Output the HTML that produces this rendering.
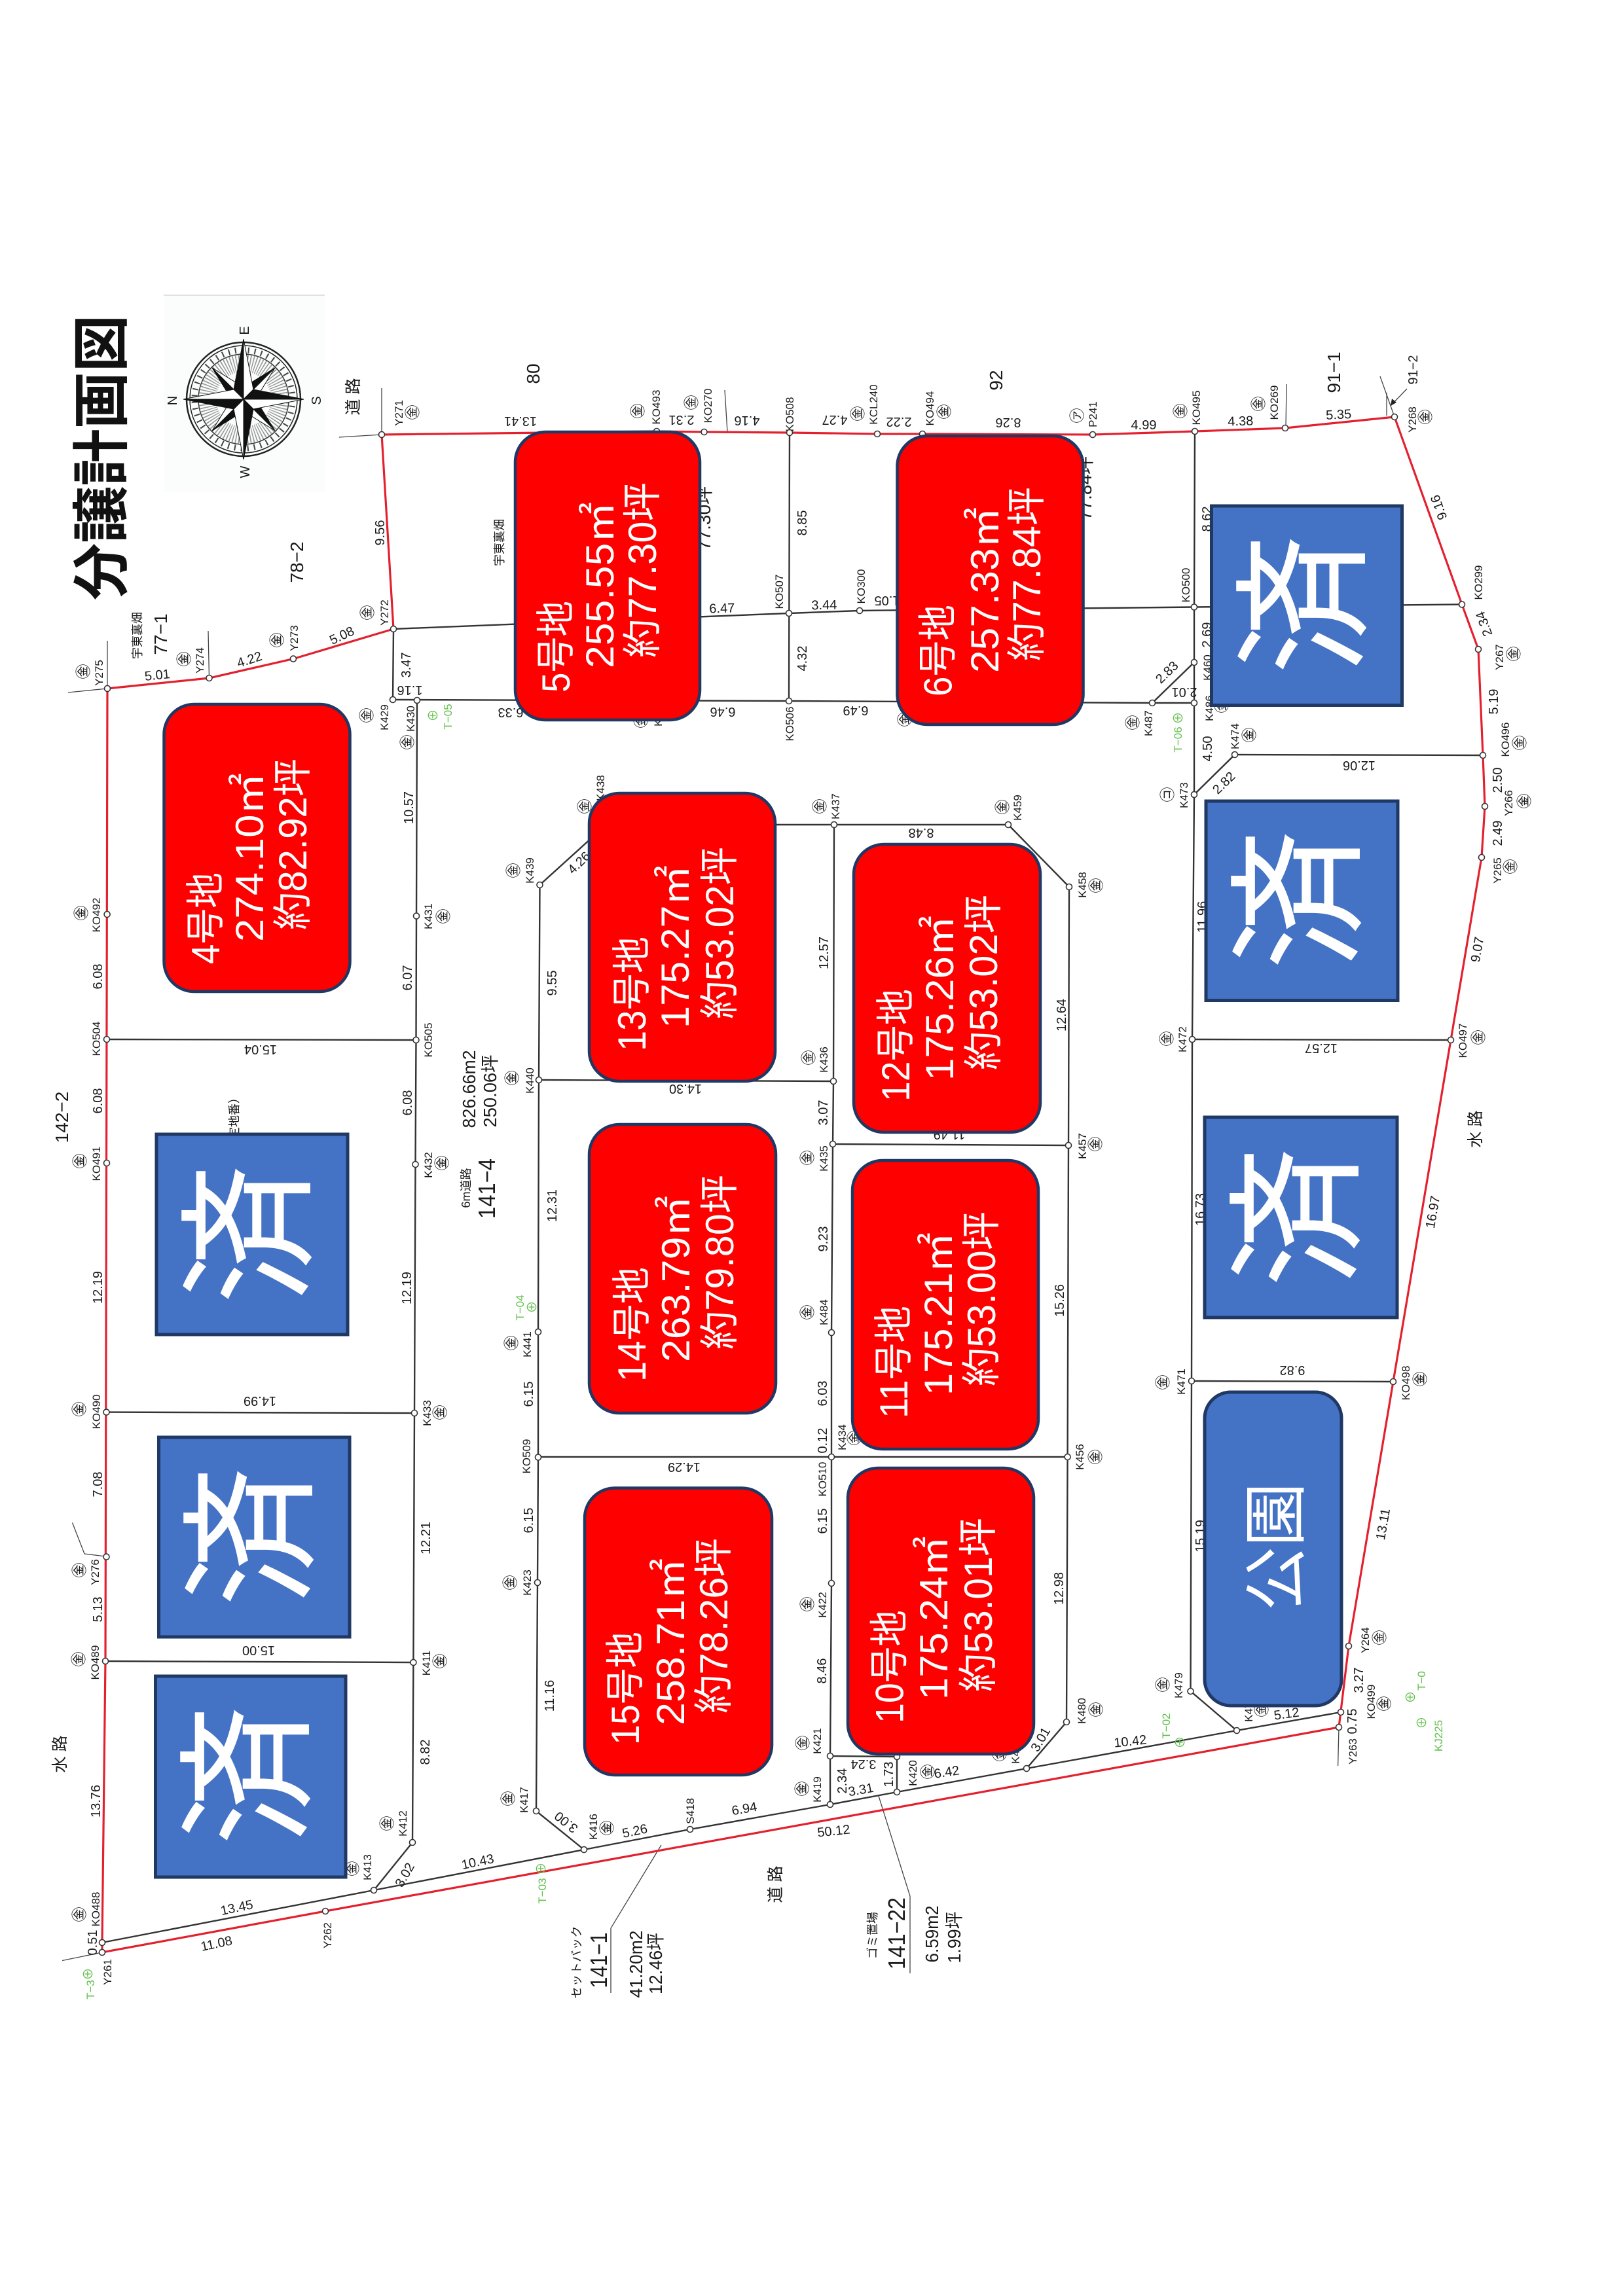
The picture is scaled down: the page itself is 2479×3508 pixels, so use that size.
<!DOCTYPE html>
<html lang="ja"><head><meta charset="utf-8"><title>分譲計画図</title>
<style>
html,body{margin:0;padding:0;background:#fff}
svg{display:block}
text{font-family:"Liberation Sans","Noto Sans CJK JP",sans-serif;fill:#1a1a1a}
.l{font-size:17px;text-anchor:middle}
.d{font-size:20px;text-anchor:middle}
.j{font-size:25px;text-anchor:middle}
.n{font-size:28px;text-anchor:middle}
.s{font-size:18px;text-anchor:middle}
.k{font-size:23px;text-anchor:middle;font-family:"Noto Sans CJK JP",sans-serif}
.g{font-size:17px;text-anchor:middle;fill:#5fbf4a}
.gk{font-size:19px;text-anchor:middle;fill:#5fbf4a}
.w{font-size:60px;fill:#fff}
.z{font-size:214px;fill:#fff;text-anchor:middle;font-family:"Noto Sans CJK JP",sans-serif}
.r{fill:#f00;stroke:#1f3864;stroke-width:4.5}
.b{fill:#4472c4;stroke:#1f3864;stroke-width:5}
.ln{fill:none;stroke:#333;stroke-width:2.4}
.rd{fill:none;stroke:#e3202e;stroke-width:3.2}
.nd circle{fill:#fff;stroke:#333;stroke-width:1.6}
</style></head><body>
<svg xmlns="http://www.w3.org/2000/svg" width="2479" height="3508" viewBox="0 0 2479 3508">
<rect width="2479" height="3508" fill="#fff"/>

<!-- compass -->
<rect x="250" y="451" width="246" height="301" fill="#fbfcfc"/>
<line x1="250" y1="451" x2="496" y2="451" stroke="#d8d8d8" stroke-width="1.5"/>
<g transform="translate(372,610)">
<circle r="87" fill="none" stroke="#222" stroke-width="2.5"/>
<circle r="82" fill="none" stroke="#222" stroke-width="1.5"/>
<circle r="75" fill="none" stroke="#444" stroke-width="9" stroke-dasharray="2 8"/>
<circle r="69" fill="none" stroke="#333" stroke-width="1.5"/>
<circle r="55" fill="none" stroke="#999" stroke-width="26" stroke-dasharray="1.5 2.5"/>
<g stroke="#111" stroke-width="1">
<g><polygon points="0,-68 0,0 -13,-13" fill="#111" transform="rotate(45)"/><polygon points="0,-68 0,0 13,-13" fill="#fff" transform="rotate(45)"/></g>
<g><polygon points="0,-68 0,0 -13,-13" fill="#111" transform="rotate(135)"/><polygon points="0,-68 0,0 13,-13" fill="#fff" transform="rotate(135)"/></g>
<g><polygon points="0,-68 0,0 -13,-13" fill="#111" transform="rotate(225)"/><polygon points="0,-68 0,0 13,-13" fill="#fff" transform="rotate(225)"/></g>
<g><polygon points="0,-68 0,0 -13,-13" fill="#111" transform="rotate(315)"/><polygon points="0,-68 0,0 13,-13" fill="#fff" transform="rotate(315)"/></g>
<g><polygon points="0,-92 0,0 -15,-15" fill="#111"/><polygon points="0,-92 0,0 15,-15" fill="#fff"/></g>
<g transform="rotate(90)"><polygon points="0,-92 0,0 -15,-15" fill="#111"/><polygon points="0,-92 0,0 15,-15" fill="#fff"/></g>
<g transform="rotate(180)"><polygon points="0,-92 0,0 -15,-15" fill="#111"/><polygon points="0,-92 0,0 15,-15" fill="#fff"/></g>
<g transform="rotate(270)"><polygon points="0,-92 0,0 -15,-15" fill="#111"/><polygon points="0,-92 0,0 15,-15" fill="#fff"/></g>
</g></g>
<g class="x">
<text class="d" transform="matrix(0 -1 1 0 380 505)">E</text>
<text class="d" transform="matrix(0 -1 1 0 490 612)">S</text>
<text class="d" transform="matrix(0 -1 1 0 270 612)">N</text>
<text class="d" transform="matrix(0 -1 1 0 381 721)">W</text>
</g>

<!-- title -->
<text transform="matrix(0 -1 1 0 186 917)" style="font-size:88px;font-weight:bold;fill:#111;font-family:'Noto Sans CJK JP',sans-serif" textLength="436" lengthAdjust="spacingAndGlyphs">分譲計画図</text>

<!-- black lot lines -->
<g class="ln">
<polyline points="156,2968 571,2888 892,2826 1054,2795 1268,2757 1370,2738 1568,2702 1889,2644 2048,2616"/>
<polyline points="601,961 1205,937 1313,933 1825,927.5 2233,923.5"/>
<polyline points="1825,659 1824,927 1824,1012 1824,1074 1824,1214 1821,1588 1820,2110 1818.5,2584 1889,2644"/>
<polyline points="1824,1012 1760,1074"/>
<polyline points="600,1069 1205,1071 1760,1074 1824,1074"/>
<polyline points="600,1069 601,961"/>
<polyline points="637,1070 636,1399.5 635.5,1589 634.5,1779 633,2159 631.4,2540 630,2815 571,2888"/>
<polyline points="163,1588 635.5,1589"/>
<polyline points="162.5,2157.6 633,2159"/>
<polyline points="161,2538 631.4,2540"/>
<polyline points="1824,1214 1886,1153 2265,1154"/>
<polyline points="1821,1588 2216,1589"/>
<polyline points="1820,2110 2128,2111"/>
<polyline points="1206,661 1205,1071"/>
<polyline points="892,2826 819,2767 821,2418 822,2226.5 822,2035 823,1650 824.5,1352 926,1260 1274,1260 1540,1260 1633,1355 1632,1750 1630.6,2226 1629,2631 1568,2702"/>
<polyline points="1274,1260 1273,1652 1272,1748 1270,2036 1270,2226 1270,2419 1268,2683 1268,2757"/>
<polyline points="1268,2683 1370,2684 1370,2738"/>
<polyline points="823,1650 1273,1652"/>
<polyline points="1272,1748 1632,1750"/>
<polyline points="822,2226 1630.6,2226"/>
</g>
<!-- thin leader lines -->
<g fill="none" stroke="#444" stroke-width="1.3">
<polyline points="583,593 583,664"/><polyline points="518,668 583,664"/>
<polyline points="318,964 319.5,1036"/>
<polyline points="164,979 164,1052"/><polyline points="104,1058 164,1052"/>
<polyline points="1107,596 1111,660"/>
<polyline points="1965,587 1964,653"/>
<polyline points="2108,575 2124,620 2130,637"/><polyline points="2118,600 2118,635"/>
<polyline points="2149,594 2124,620"/>
<polyline points="110.5,2326.5 129,2374 157,2377.5"/>
<polyline points="95,2995.5 156,2983"/>
<polyline points="2045,2639 2043.6,2698"/>
<polyline points="1342,2744 1390,2897 1390,3015"/>
<polyline points="1010,2819 933,2946 933,3045"/>
</g>
<polygon points="2124,620 2126,609 2133,615" fill="#222"/>

<!-- red boundary -->
<polygon class="rd" points="164,1052 319.5,1036 448,1006.6 601,961 583,664 1003,659 1075.5,660 1206,661 1340,663 1409,663 1669,664 1825,659 1963,654 2130,637 2233,923.5 2258,992 2265,1154 2268,1232 2263,1310 2216,1589 2128,2111 2060,2515 2045,2639 497,2920 156,2983 156,2968 161,2538 164,1052"/>

<!-- labels -->
<g>
<text class="j" transform="matrix(0 -1 1 0 548 606)">道 路</text>
<text class="n" transform="matrix(0 -1 1 0 824 571)">80</text>
<text class="n" transform="matrix(0 -1 1 0 1531 581)">92</text>
<text class="n" transform="matrix(0 -1 1 0 2047 569)">91−1</text>
<text class="d" transform="matrix(0 -1 1 0 2165 565)">91−2</text>
<text class="n" transform="matrix(0 -1 1 0 463 859)">78−2</text>
<text class="n" transform="matrix(0 -1 1 0 255 969)">77−1</text>
<text class="n" transform="matrix(0 -1 1 0 104 1707)">142−2</text>
<text class="s" transform="matrix(0 -1 1 0 769 829)">宇東裏畑</text>
<text class="s" transform="matrix(0 -1 1 0 216 971)">宇東裏畑</text>
<text class="s" transform="matrix(0 -1 1 0 364 1722)">（予定地番）</text>
<text class="j" transform="matrix(0 -1 1 0 2262 1725)">水 路</text>
<text class="j" transform="matrix(0 -1 1 0 100 2680)">水 路</text>
<text class="j" transform="matrix(0 -1 1 0 1193 2879)">道 路</text>
<text class="n" transform="matrix(0 -1 1 0 1085 792)">77.30坪</text>
<text class="n" transform="matrix(0 -1 1 0 1667 746)">77.84坪</text>
<text class="n" transform="matrix(0 -1 1 0 726 1664)" textLength="119" lengthAdjust="spacingAndGlyphs">826.66m2</text>
<text class="n" transform="matrix(0 -1 1 0 758 1667)" textLength="111" lengthAdjust="spacingAndGlyphs">250.06坪</text>
<text class="s" transform="matrix(0 -1 1 0 718 1815)">6m道路</text>
<text class="n" transform="matrix(0 -1 1 0 756 1816)" style="font-size:36px" textLength="92" lengthAdjust="spacingAndGlyphs">141−4</text>
<text class="n" transform="matrix(0 -1 1 0 1382 2954)" style="font-size:36px" textLength="110" lengthAdjust="spacingAndGlyphs">141−22</text>
<text class="s" transform="matrix(0 -1 1 0 1339 2957)">ゴミ置場</text>
<text class="n" transform="matrix(0 -1 1 0 1433 2955)" textLength="87" lengthAdjust="spacingAndGlyphs">6.59m2</text>
<text class="n" transform="matrix(0 -1 1 0 1467 2960)" textLength="79" lengthAdjust="spacingAndGlyphs">1.99坪</text>
<text class="s" transform="matrix(0 -1 1 0 887 2998)" textLength="111" lengthAdjust="spacing">セットバック</text>
<text class="n" transform="matrix(0 -1 1 0 927 2995)" style="font-size:36px" textLength="85" lengthAdjust="spacingAndGlyphs">141−1</text>
<text class="n" transform="matrix(0 -1 1 0 981 3001)" textLength="103" lengthAdjust="spacingAndGlyphs">41.20m2</text>
<text class="n" transform="matrix(0 -1 1 0 1011 3000)" textLength="94" lengthAdjust="spacingAndGlyphs">12.46坪</text>
</g>

<!-- point names -->
<g class="pn">
<text class="l" transform="matrix(0 -1 1 0 615 631)">Y271</text>
<text class="l" transform="matrix(0 -1 1 0 1008 622)">KO493</text>
<text class="l" transform="matrix(0 -1 1 0 1087 620)">KO270</text>
<text class="l" transform="matrix(0 -1 1 0 1212 633)">KO508</text>
<text class="l" transform="matrix(0 -1 1 0 1340 618)">KCL240</text>
<text class="l" transform="matrix(0 -1 1 0 1426 624)">KO494</text>
<text class="l" transform="matrix(0 -1 1 0 1675 633)">P241</text>
<text class="l" transform="matrix(0 -1 1 0 1833 623)">KO495</text>
<text class="l" transform="matrix(0 -1 1 0 1952 615)">KO269</text>
<text class="l" transform="matrix(0 -1 1 0 2163 641)">Y268</text>
<text class="l" transform="matrix(0 -1 1 0 2264 890)">KO299</text>
<text class="l" transform="matrix(0 -1 1 0 2296 1004)">Y267</text>
<text class="l" transform="matrix(0 -1 1 0 2305 1130)">KO496</text>
<text class="l" transform="matrix(0 -1 1 0 2310 1227)">Y266</text>
<text class="l" transform="matrix(0 -1 1 0 2293 1330)">Y265</text>
<text class="l" transform="matrix(0 -1 1 0 2240 1590)">KO497</text>
<text class="l" transform="matrix(0 -1 1 0 1812 1588)">K472</text>
<text class="l" transform="matrix(0 -1 1 0 2153 2113)">KO498</text>
<text class="l" transform="matrix(0 -1 1 0 1810 2111)">K471</text>
<text class="l" transform="matrix(0 -1 1 0 1655 2226)">K456</text>
<text class="l" transform="matrix(0 -1 1 0 1850 1020)">K460</text>
<text class="l" transform="matrix(0 -1 1 0 1853 1082)">K486</text>
<text class="l" transform="matrix(0 -1 1 0 1760 1105)">K487</text>
<text class="l" transform="matrix(0 -1 1 0 1892 1125)">K474</text>
<text class="l" transform="matrix(0 -1 1 0 1814 1215)">K473</text>
<text class="l" transform="matrix(0 -1 1 0 1817 894)">KO500</text>
<text class="l" transform="matrix(0 -1 1 0 1321 896)">KO300</text>
<text class="l" transform="matrix(0 -1 1 0 1416 1088)">K485</text>
<text class="l" transform="matrix(0 -1 1 0 1011 1090)">K428</text>
<text class="l" transform="matrix(0 -1 1 0 1212 1106)">KO506</text>
<text class="l" transform="matrix(0 -1 1 0 1196 904)">KO507</text>
<text class="l" transform="matrix(0 -1 1 0 593 936)">Y272</text>
<text class="l" transform="matrix(0 -1 1 0 455 975)">Y273</text>
<text class="l" transform="matrix(0 -1 1 0 311 1009)">Y274</text>
<text class="l" transform="matrix(0 -1 1 0 157 1028)">Y275</text>
<text class="l" transform="matrix(0 -1 1 0 593 1096)">K429</text>
<text class="l" transform="matrix(0 -1 1 0 633 1098)">K430</text>
<text class="l" transform="matrix(0 -1 1 0 153 1398)">KO492</text>
<text class="l" transform="matrix(0 -1 1 0 153 1587)">KO504</text>
<text class="l" transform="matrix(0 -1 1 0 153 1778)">KO491</text>
<text class="l" transform="matrix(0 -1 1 0 153 2157)">KO490</text>
<text class="l" transform="matrix(0 -1 1 0 151 2402)">Y276</text>
<text class="l" transform="matrix(0 -1 1 0 151 2540)">KO489</text>
<text class="l" transform="matrix(0 -1 1 0 152 2917)">KO488</text>
<text class="l" transform="matrix(0 -1 1 0 170 3013)">Y261</text>
<text class="l" transform="matrix(0 -1 1 0 506 2957)">Y262</text>
<text class="l" transform="matrix(0 -1 1 0 660 1589)">KO505</text>
<text class="l" transform="matrix(0 -1 1 0 660 1400)">K431</text>
<text class="l" transform="matrix(0 -1 1 0 660 1780)">K432</text>
<text class="l" transform="matrix(0 -1 1 0 658 2159)">K433</text>
<text class="l" transform="matrix(0 -1 1 0 657 2541)">K411</text>
<text class="l" transform="matrix(0 -1 1 0 621 2786)">K412</text>
<text class="l" transform="matrix(0 -1 1 0 567 2853)">K413</text>
<text class="l" transform="matrix(0 -1 1 0 815 1330)">K439</text>
<text class="l" transform="matrix(0 -1 1 0 815 1651)">K440</text>
<text class="l" transform="matrix(0 -1 1 0 811 2054)">K441</text>
<text class="l" transform="matrix(0 -1 1 0 810 2225)">KO509</text>
<text class="l" transform="matrix(0 -1 1 0 811 2418)">K423</text>
<text class="l" transform="matrix(0 -1 1 0 806 2750)">K417</text>
<text class="l" transform="matrix(0 -1 1 0 912 2791)">K416</text>
<text class="l" transform="matrix(0 -1 1 0 1060 2767)">S418</text>
<text class="l" transform="matrix(0 -1 1 0 1254 2734)">K419</text>
<text class="l" transform="matrix(0 -1 1 0 1254 2660)">K421</text>
<text class="l" transform="matrix(0 -1 1 0 1400 2709)">K420</text>
<text class="l" transform="matrix(0 -1 1 0 1262 2452)">K422</text>
<text class="l" transform="matrix(0 -1 1 0 1262 2260)">KO510</text>
<text class="l" transform="matrix(0 -1 1 0 1292 2196)">K434</text>
<text class="l" transform="matrix(0 -1 1 0 1264 2005)">K484</text>
<text class="l" transform="matrix(0 -1 1 0 1264 1770)">K435</text>
<text class="l" transform="matrix(0 -1 1 0 1264 1619)">K436</text>
<text class="l" transform="matrix(0 -1 1 0 1282 1232)">K437</text>
<text class="l" transform="matrix(0 -1 1 0 923 1204)">K438</text>
<text class="l" transform="matrix(0 -1 1 0 1560 1234)">K459</text>
<text class="l" transform="matrix(0 -1 1 0 1659 1352)">K458</text>
<text class="l" transform="matrix(0 -1 1 0 1659 1751)">K457</text>
<text class="l" transform="matrix(0 -1 1 0 1658 2614)">K480</text>
<text class="l" transform="matrix(0 -1 1 0 1557 2675)">K481</text>
<text class="l" transform="matrix(0 -1 1 0 1806 2575)">K479</text>
<text class="l" transform="matrix(0 -1 1 0 1913 2611)">K478</text>
<text class="l" transform="matrix(0 -1 1 0 2091 2506)">Y264</text>
<text class="l" transform="matrix(0 -1 1 0 2100 2600)">KO499</text>
<text class="l" transform="matrix(0 -1 1 0 2072 2676)">Y263</text>
<text class="g" transform="matrix(0 -1 1 0 690 1095)">T−05</text>
<text class="g" transform="matrix(0 -1 1 0 1805 1130)">T−06</text>
<text class="g" transform="matrix(0 -1 1 0 800 1998)">T−04</text>
<text class="g" transform="matrix(0 -1 1 0 144 3040)">T−3</text>
<text class="g" transform="matrix(0 -1 1 0 834 2889)">T−03</text>
<text class="g" transform="matrix(0 -1 1 0 1787 2637)">T−02</text>
<text class="g" transform="matrix(0 -1 1 0 2177 2568)">T−0</text>
<text class="g" transform="matrix(0 -1 1 0 2203 2652)">KJ225</text>
<text class="gk" transform="matrix(0 -1 1 0 668 1093)">⊕</text>
<text class="gk" transform="matrix(0 -1 1 0 1806 1097)">⊕</text>
<text class="gk" transform="matrix(0 -1 1 0 819 1997)">⊕</text>
<text class="gk" transform="matrix(0 -1 1 0 141 3016)">⊕</text>
<text class="gk" transform="matrix(0 -1 1 0 833 2855)">⊕</text>
<text class="gk" transform="matrix(0 -1 1 0 1809 2662)">⊕</text>
<text class="gk" transform="matrix(0 -1 1 0 2161 2593)">⊕</text>
<text class="gk" transform="matrix(0 -1 1 0 2178 2632)">⊕</text>
</g>

<!-- circled 金 marks -->
<g>
<text class="k" transform="matrix(0 -1 1 0 638 630)">㊎</text>
<text class="k" transform="matrix(0 -1 1 0 982 628)">㊎</text>
<text class="k" transform="matrix(0 -1 1 0 1064 615)">㊎</text>
<text class="k" transform="matrix(0 -1 1 0 1318 632)">㊎</text>
<text class="k" transform="matrix(0 -1 1 0 1450 629)">㊎</text>
<text class="k" transform="matrix(0 -1 1 0 1653 635)">㋐</text>
<text class="k" transform="matrix(0 -1 1 0 1811 628)">㊎</text>
<text class="k" transform="matrix(0 -1 1 0 1930 617)">㊎</text>
<text class="k" transform="matrix(0 -1 1 0 2185 637)">㊎</text>
<text class="k" transform="matrix(0 -1 1 0 2320 999)">㊎</text>
<text class="k" transform="matrix(0 -1 1 0 2329 1135)">㊎</text>
<text class="k" transform="matrix(0 -1 1 0 2336 1224)">㊎</text>
<text class="k" transform="matrix(0 -1 1 0 2315 1324)">㊎</text>
<text class="k" transform="matrix(0 -1 1 0 2266 1585)">㊎</text>
<text class="k" transform="matrix(0 -1 1 0 1790 1587)">㊎</text>
<text class="k" transform="matrix(0 -1 1 0 2177 2107)">㊎</text>
<text class="k" transform="matrix(0 -1 1 0 1784 2112)">㊎</text>
<text class="k" transform="matrix(0 -1 1 0 1681 2226)">㊎</text>
<text class="k" transform="matrix(0 -1 1 0 1874 1078)">㊎</text>
<text class="k" transform="matrix(0 -1 1 0 1738 1104)">㊎</text>
<text class="k" transform="matrix(0 -1 1 0 1916 1123)">㊎</text>
<text class="k" transform="matrix(0 -1 1 0 1791 1214)">㋙</text>
<text class="k" transform="matrix(0 -1 1 0 1390 1099)">㊎</text>
<text class="k" transform="matrix(0 -1 1 0 987 1101)">㊎</text>
<text class="k" transform="matrix(0 -1 1 0 569 936)">㊎</text>
<text class="k" transform="matrix(0 -1 1 0 431 978)">㊎</text>
<text class="k" transform="matrix(0 -1 1 0 289 1007)">㊎</text>
<text class="k" transform="matrix(0 -1 1 0 135 1026)">㊎</text>
<text class="k" transform="matrix(0 -1 1 0 568 1093)">㊎</text>
<text class="k" transform="matrix(0 -1 1 0 630 1134)">㊎</text>
<text class="k" transform="matrix(0 -1 1 0 132 1395)">㊎</text>
<text class="k" transform="matrix(0 -1 1 0 130 1774)">㊎</text>
<text class="k" transform="matrix(0 -1 1 0 129 2153)">㊎</text>
<text class="k" transform="matrix(0 -1 1 0 129 2399)">㊎</text>
<text class="k" transform="matrix(0 -1 1 0 128 2535)">㊎</text>
<text class="k" transform="matrix(0 -1 1 0 129 2925)">㊎</text>
<text class="k" transform="matrix(0 -1 1 0 685 1400)">㊎</text>
<text class="k" transform="matrix(0 -1 1 0 683 1777)">㊎</text>
<text class="k" transform="matrix(0 -1 1 0 680 2158)">㊎</text>
<text class="k" transform="matrix(0 -1 1 0 680 2538)">㊎</text>
<text class="k" transform="matrix(0 -1 1 0 599 2786)">㊎</text>
<text class="k" transform="matrix(0 -1 1 0 546 2855)">㊎</text>
<text class="k" transform="matrix(0 -1 1 0 792 1330)">㊎</text>
<text class="k" transform="matrix(0 -1 1 0 790 1647)">㊎</text>
<text class="k" transform="matrix(0 -1 1 0 789 2052)">㊎</text>
<text class="k" transform="matrix(0 -1 1 0 787 2418)">㊎</text>
<text class="k" transform="matrix(0 -1 1 0 784 2748)">㊎</text>
<text class="k" transform="matrix(0 -1 1 0 935 2793)">㊎</text>
<text class="k" transform="matrix(0 -1 1 0 1233 2733)">㊎</text>
<text class="k" transform="matrix(0 -1 1 0 1234 2663)">㊎</text>
<text class="k" transform="matrix(0 -1 1 0 1425 2707)">㊎</text>
<text class="k" transform="matrix(0 -1 1 0 1241 2451)">㊎</text>
<text class="k" transform="matrix(0 -1 1 0 1313 2197)">㊎</text>
<text class="k" transform="matrix(0 -1 1 0 1241 2005)">㊎</text>
<text class="k" transform="matrix(0 -1 1 0 1241 1769)">㊎</text>
<text class="k" transform="matrix(0 -1 1 0 1243 1616)">㊎</text>
<text class="k" transform="matrix(0 -1 1 0 1260 1232)">㊎</text>
<text class="k" transform="matrix(0 -1 1 0 901 1232)">㊎</text>
<text class="k" transform="matrix(0 -1 1 0 1539 1233)">㊎</text>
<text class="k" transform="matrix(0 -1 1 0 1682 1353)">㊎</text>
<text class="k" transform="matrix(0 -1 1 0 1681 1748)">㊎</text>
<text class="k" transform="matrix(0 -1 1 0 1682 2612)">㊎</text>
<text class="k" transform="matrix(0 -1 1 0 1535 2680)">㊎</text>
<text class="k" transform="matrix(0 -1 1 0 1784 2574)">㊎</text>
<text class="k" transform="matrix(0 -1 1 0 1935 2612)">㊎</text>
<text class="k" transform="matrix(0 -1 1 0 2115 2502)">㊎</text>
<text class="k" transform="matrix(0 -1 1 0 2122 2603)">㊎</text>
</g>

<!-- dimensions: vertical -->
<g>
<text class="d" transform="matrix(0 -1 1 0 587 814)">9.56</text>
<text class="d" transform="matrix(0 -1 1 0 627 1016)">3.47</text>
<text class="d" transform="matrix(0 -1 1 0 1232 799)">8.85</text>
<text class="d" transform="matrix(0 -1 1 0 1232 1006)">4.32</text>
<text class="d" transform="matrix(0 -1 1 0 1850 793)">8.62</text>
<text class="d" transform="matrix(0 -1 1 0 1850 970)">2.69</text>
<text class="d" transform="matrix(0 -1 1 0 1851 1144)">4.50</text>
<text class="d" transform="matrix(0 -1 1 0 1843 1401)">11.96</text>
<text class="d" transform="matrix(0 -1 1 0 1840 1848)">16.73</text>
<text class="d" transform="matrix(0 -1 1 0 1840 2347)">15.19</text>
<text class="d" transform="matrix(0 -1 1 0 2288 1072)">5.19</text>
<text class="d" transform="matrix(0 -1 1 0 2294 1192)">2.50</text>
<text class="d" transform="matrix(0 -1 1 0 2294 1273)">2.49</text>
<text class="d" transform="matrix(0 -1 1 0 156 1492)">6.08</text>
<text class="d" transform="matrix(0 -1 1 0 156 1682)">6.08</text>
<text class="d" transform="matrix(0 -1 1 0 156 1967)">12.19</text>
<text class="d" transform="matrix(0 -1 1 0 156 2268)">7.08</text>
<text class="d" transform="matrix(0 -1 1 0 156 2459)">5.13</text>
<text class="d" transform="matrix(0 -1 1 0 153 2752)">13.76</text>
<text class="d" transform="matrix(0 -1 1 0 148 2968)">0.51</text>
<text class="d" transform="matrix(0 -1 1 0 631 1234)">10.57</text>
<text class="d" transform="matrix(0 -1 1 0 629 1494)">6.07</text>
<text class="d" transform="matrix(0 -1 1 0 629 1685)">6.08</text>
<text class="d" transform="matrix(0 -1 1 0 628 1968)">12.19</text>
<text class="d" transform="matrix(0 -1 1 0 657 2350)">12.21</text>
<text class="d" transform="matrix(0 -1 1 0 656 2677)">8.82</text>
<text class="d" transform="matrix(0 -1 1 0 850 1502)">9.55</text>
<text class="d" transform="matrix(0 -1 1 0 850 1842)">12.31</text>
<text class="d" transform="matrix(0 -1 1 0 814 2130)">6.15</text>
<text class="d" transform="matrix(0 -1 1 0 814 2323)">6.15</text>
<text class="d" transform="matrix(0 -1 1 0 846 2591)">11.16</text>
<text class="d" transform="matrix(0 -1 1 0 1265 1456)">12.57</text>
<text class="d" transform="matrix(0 -1 1 0 1264 1700)">3.07</text>
<text class="d" transform="matrix(0 -1 1 0 1264 1893)">9.23</text>
<text class="d" transform="matrix(0 -1 1 0 1263 2129)">6.03</text>
<text class="d" transform="matrix(0 -1 1 0 1263 2201)">0.12</text>
<text class="d" transform="matrix(0 -1 1 0 1263 2324)">6.15</text>
<text class="d" transform="matrix(0 -1 1 0 1262 2553)">8.46</text>
<text class="d" transform="matrix(0 -1 1 0 1293 2721)">2.34</text>
<text class="d" transform="matrix(0 -1 1 0 1364 2711)">1.73</text>
<text class="d" transform="matrix(0 -1 1 0 1628 1551)">12.64</text>
<text class="d" transform="matrix(0 -1 1 0 1625 1987)">15.26</text>
<text class="d" transform="matrix(0 -1 1 0 1624 2427)">12.98</text>
<text class="d" transform="matrix(0 -1 1 0 2082 2567)">3.27</text>
<text class="d" transform="matrix(0 -1 1 0 2072 2630)">0.75</text>
</g>
<!-- dimensions: upside-down -->
<g>
<text class="d" transform="matrix(-1 0 0 -1 795 637)">13.41</text>
<text class="d" transform="matrix(-1 0 0 -1 1041 635)">2.31</text>
<text class="d" transform="matrix(-1 0 0 -1 1141 636)">4.16</text>
<text class="d" transform="matrix(-1 0 0 -1 1275 635)">4.27</text>
<text class="d" transform="matrix(-1 0 0 -1 1373 638)">2.22</text>
<text class="d" transform="matrix(-1 0 0 -1 1540 639)">8.26</text>
<text class="d" transform="matrix(-1 0 0 -1 626 1048)">1.16</text>
<text class="d" transform="matrix(-1 0 0 -1 780 1082)">6.33</text>
<text class="d" transform="matrix(-1 0 0 -1 1104 1081)">6.46</text>
<text class="d" transform="matrix(-1 0 0 -1 1307 1079)">6.49</text>
<text class="d" transform="matrix(-1 0 0 -1 1355 911)">1.05</text>
<text class="d" transform="matrix(-1 0 0 -1 1809 1051)">2.01</text>
<text class="d" transform="matrix(-1 0 0 -1 2076 1163)">12.06</text>
<text class="d" transform="matrix(-1 0 0 -1 2018 1595)">12.57</text>
<text class="d" transform="matrix(-1 0 0 -1 1974 2087)">9.82</text>
<text class="d" transform="matrix(-1 0 0 -1 398 1597)">15.04</text>
<text class="d" transform="matrix(-1 0 0 -1 397 2134)">14.99</text>
<text class="d" transform="matrix(-1 0 0 -1 395 2515)">15.00</text>
<text class="d" transform="matrix(-1 0 0 -1 1047 1657)">14.30</text>
<text class="d" transform="matrix(-1 0 0 -1 1045 2235)">14.29</text>
<text class="d" transform="matrix(-1 0 0 -1 1407 1266)">8.48</text>
<text class="d" transform="matrix(-1 0 0 -1 1450 1727)">11.49</text>
<text class="d" transform="matrix(-1 0 0 -1 1319 2689)">3.24</text>
</g>
<!-- dimensions: upright and slanted -->
<g>
<text class="d" transform="translate(1747,656)">4.99</text>
<text class="d" transform="translate(1895,650) rotate(-2)">4.38</text>
<text class="d" transform="translate(2045,640) rotate(-3)">5.35</text>
<text class="d" transform="translate(1103,936) rotate(-2)">6.47</text>
<text class="d" transform="translate(1259,931) rotate(-1)">3.44</text>
<text class="d" transform="translate(241,1038) rotate(-6)">5.01</text>
<text class="d" transform="translate(383,1014) rotate(-18)">4.22</text>
<text class="d" transform="translate(525,977) rotate(-25)">5.08</text>
<text class="d" transform="translate(2204,773) rotate(-110)">9.16</text>
<text class="d" transform="translate(2273,951) rotate(-110)">2.34</text>
<text class="d" transform="translate(2263,1452) rotate(-80)">9.07</text>
<text class="d" transform="translate(2195,1853) rotate(-80)">16.97</text>
<text class="d" transform="translate(2119,2330) rotate(-80)">13.11</text>
<text class="d" transform="translate(1787,1032) rotate(-44)">2.83</text>
<text class="d" transform="translate(1874,1201) rotate(-44)">2.82</text>
<text class="d" transform="translate(889,1323) rotate(-44)">4.26</text>
<text class="d" transform="translate(332,2976) rotate(-12)">11.08</text>
<text class="d" transform="translate(363,2921) rotate(-12)">13.45</text>
<text class="d" transform="translate(731,2851) rotate(-12)">10.43</text>
<text class="d" transform="translate(624,2868) rotate(-60)">3.02</text>
<text class="d" transform="translate(869,2779) rotate(219)">3.00</text>
<text class="d" transform="translate(971,2804) rotate(-12)">5.26</text>
<text class="d" transform="translate(1138,2770) rotate(-10)">6.94</text>
<text class="d" transform="translate(1316,2741) rotate(-10)">3.31</text>
<text class="d" transform="translate(1447,2714) rotate(-9)">6.42</text>
<text class="d" transform="translate(1274,2804) rotate(-6)">50.12</text>
<text class="d" transform="translate(1595,2661) rotate(-60)">3.01</text>
<text class="d" transform="translate(1727,2667) rotate(-6)">10.42</text>
<text class="d" transform="translate(1966,2625) rotate(-8)">5.12</text>
</g>

<!-- nodes -->
<g class="nd">
<circle cx="164" cy="1052" r="4.5"/><circle cx="319.5" cy="1036" r="4.5"/><circle cx="448" cy="1006.6" r="4.5"/><circle cx="601" cy="961" r="4.5"/><circle cx="583" cy="664" r="4.5"/><circle cx="1003" cy="659" r="4.5"/><circle cx="1075.5" cy="660" r="4.5"/><circle cx="1206" cy="661" r="4.5"/><circle cx="1340" cy="663" r="4.5"/><circle cx="1409" cy="663" r="4.5"/><circle cx="1669" cy="664" r="4.5"/><circle cx="1825" cy="659" r="4.5"/><circle cx="1963" cy="654" r="4.5"/><circle cx="2130" cy="637" r="4.5"/><circle cx="2233" cy="923.5" r="4.5"/><circle cx="2258" cy="992" r="4.5"/><circle cx="2265" cy="1154" r="4.5"/><circle cx="2268" cy="1232" r="4.5"/><circle cx="2263" cy="1310" r="4.5"/><circle cx="2216" cy="1589" r="4.5"/><circle cx="2128" cy="2111" r="4.5"/><circle cx="2060" cy="2515" r="4.5"/><circle cx="2045" cy="2639" r="4.5"/><circle cx="2048" cy="2616" r="4.5"/><circle cx="497" cy="2920" r="4.5"/><circle cx="156" cy="2983" r="4.5"/><circle cx="156" cy="2968" r="4.5"/><circle cx="161" cy="2538" r="4.5"/><circle cx="162.5" cy="2157.6" r="4.5"/><circle cx="162.5" cy="2378.6" r="4.5"/><circle cx="163" cy="1777" r="4.5"/><circle cx="163" cy="1588" r="4.5"/><circle cx="163.6" cy="1397" r="4.5"/>
<circle cx="600" cy="1069" r="4.5"/><circle cx="637" cy="1070" r="4.5"/><circle cx="636" cy="1399.5" r="4.5"/><circle cx="635.5" cy="1589" r="4.5"/><circle cx="634.5" cy="1779" r="4.5"/><circle cx="633" cy="2159" r="4.5"/><circle cx="631.4" cy="2540" r="4.5"/><circle cx="630" cy="2815" r="4.5"/><circle cx="571" cy="2888" r="4.5"/><circle cx="892" cy="2826" r="4.5"/><circle cx="1054" cy="2795" r="4.5"/><circle cx="1268" cy="2757" r="4.5"/><circle cx="1370" cy="2738" r="4.5"/><circle cx="1568" cy="2702" r="4.5"/><circle cx="1889" cy="2644" r="4.5"/>
<circle cx="1205" cy="937" r="4.5"/><circle cx="1205" cy="1071" r="4.5"/><circle cx="1313" cy="933" r="4.5"/><circle cx="1824" cy="927.5" r="4.5"/><circle cx="1824" cy="1012" r="4.5"/><circle cx="1824" cy="1074" r="4.5"/><circle cx="1760" cy="1074" r="4.5"/><circle cx="1824" cy="1214" r="4.5"/><circle cx="1886" cy="1153" r="4.5"/><circle cx="1821" cy="1588" r="4.5"/><circle cx="1820" cy="2110" r="4.5"/><circle cx="1818.5" cy="2584" r="4.5"/>
<circle cx="819" cy="2767" r="4.5"/><circle cx="821" cy="2418" r="4.5"/><circle cx="822" cy="2226.5" r="4.5"/><circle cx="822" cy="2035" r="4.5"/><circle cx="823" cy="1650" r="4.5"/><circle cx="824.5" cy="1352" r="4.5"/><circle cx="1274" cy="1260" r="4.5"/><circle cx="1540" cy="1260" r="4.5"/><circle cx="1633" cy="1355" r="4.5"/><circle cx="1632" cy="1750" r="4.5"/><circle cx="1630.6" cy="2226" r="4.5"/><circle cx="1629" cy="2631" r="4.5"/><circle cx="1273" cy="1652" r="4.5"/><circle cx="1272" cy="1748" r="4.5"/><circle cx="1270" cy="2036" r="4.5"/><circle cx="1270" cy="2226" r="4.5"/><circle cx="1270" cy="2419" r="4.5"/><circle cx="1268" cy="2683" r="4.5"/><circle cx="1370" cy="2684" r="4.5"/>
</g>

<!-- red sold-out lots -->
<rect class="r" x="250.5" y="1076" width="284" height="439" rx="46"/>
<rect class="r" x="787" y="660" width="282" height="440" rx="46"/>
<rect class="r" x="1370.5" y="666" width="284" height="441" rx="46"/>
<rect class="r" x="900" y="1212" width="284" height="440" rx="46"/>
<rect class="r" x="1304" y="1290" width="285" height="440" rx="46"/>
<rect class="r" x="900" y="1718" width="285" height="441" rx="46"/>
<rect class="r" x="1302" y="1773" width="284" height="441" rx="46"/>
<rect class="r" x="893" y="2273.5" width="286" height="438.5" rx="46"/>
<rect class="r" x="1295" y="2243" width="284" height="437" rx="46"/>

<!-- blue boxes -->
<rect class="b" x="1850.5" y="773" width="291" height="304.5"/>
<rect class="b" x="1842" y="1224" width="293" height="304.5"/>
<rect class="b" x="1840" y="1707" width="294" height="306"/>
<rect class="b" x="1840" y="2127" width="209" height="479" rx="40"/>
<rect class="b" x="239" y="1733" width="292" height="306"/>
<rect class="b" x="242.5" y="2196" width="291.5" height="305"/>
<rect class="b" x="237.5" y="2561" width="290.5" height="307"/>

<text class="z" transform="matrix(0 -1 1 0 2068 924)">済</text>
<text class="z" transform="matrix(0 -1 1 0 2060 1375)">済</text>
<text class="z" transform="matrix(0 -1 1 0 2058 1860)">済</text>
<text class="z" transform="matrix(0 -1 1 0 457 1886)">済</text>
<text class="z" transform="matrix(0 -1 1 0 460 2348)">済</text>
<text class="z" transform="matrix(0 -1 1 0 455 2713)">済</text>
<text transform="matrix(0 -1 1 0 1983 2461)" style="font-size:98px;fill:#fff;font-family:'Noto Sans CJK JP',sans-serif">公園</text>

<!-- lot text -->
<g>
<text class="w" transform="matrix(0 -1 1 0 335 1473)" textLength="140" lengthAdjust="spacingAndGlyphs">4号地</text>
<text class="w" transform="matrix(0 -1 1 0 402 1439)" textLength="258" lengthAdjust="spacingAndGlyphs">274.10㎡</text>
<text class="w" transform="matrix(0 -1 1 0 468 1421)" textLength="262" lengthAdjust="spacingAndGlyphs">約82.92坪</text>

<text class="w" transform="matrix(0 -1 1 0 870 1058)" textLength="140" lengthAdjust="spacingAndGlyphs">5号地</text>
<text class="w" transform="matrix(0 -1 1 0 937 1021)" textLength="254" lengthAdjust="spacingAndGlyphs">255.55㎡</text>
<text class="w" transform="matrix(0 -1 1 0 1002 1005)" textLength="268" lengthAdjust="spacingAndGlyphs">約77.30坪</text>

<text class="w" transform="matrix(0 -1 1 0 1453.5 1064)" textLength="140" lengthAdjust="spacingAndGlyphs">6号地</text>
<text class="w" transform="matrix(0 -1 1 0 1525 1028)" textLength="253" lengthAdjust="spacingAndGlyphs">257.33㎡</text>
<text class="w" transform="matrix(0 -1 1 0 1589 1010)" textLength="266" lengthAdjust="spacingAndGlyphs">約77.84坪</text>

<text class="w" transform="matrix(0 -1 1 0 986 1606)" textLength="175" lengthAdjust="spacingAndGlyphs">13号地</text>
<text class="w" transform="matrix(0 -1 1 0 1052 1571)" textLength="249" lengthAdjust="spacingAndGlyphs">175.27㎡</text>
<text class="w" transform="matrix(0 -1 1 0 1120 1557)" textLength="263" lengthAdjust="spacingAndGlyphs">約53.02坪</text>

<text class="w" transform="matrix(0 -1 1 0 1389 1683)" textLength="172" lengthAdjust="spacingAndGlyphs">12号地</text>
<text class="w" transform="matrix(0 -1 1 0 1456 1651)" textLength="252" lengthAdjust="spacingAndGlyphs">175.26㎡</text>
<text class="w" transform="matrix(0 -1 1 0 1523 1635)" textLength="268" lengthAdjust="spacingAndGlyphs">約53.02坪</text>

<text class="w" transform="matrix(0 -1 1 0 986 2111)" textLength="175" lengthAdjust="spacingAndGlyphs">14号地</text>
<text class="w" transform="matrix(0 -1 1 0 1053 2081)" textLength="254" lengthAdjust="spacingAndGlyphs">263.79㎡</text>
<text class="w" transform="matrix(0 -1 1 0 1120 2062)" textLength="267" lengthAdjust="spacingAndGlyphs">約79.80坪</text>

<text class="w" transform="matrix(0 -1 1 0 1386 2167)" textLength="172" lengthAdjust="spacingAndGlyphs">11号地</text>
<text class="w" transform="matrix(0 -1 1 0 1454 2132)" textLength="249" lengthAdjust="spacingAndGlyphs">175.21㎡</text>
<text class="w" transform="matrix(0 -1 1 0 1520 2118)" textLength="267" lengthAdjust="spacingAndGlyphs">約53.00坪</text>

<text class="w" transform="matrix(0 -1 1 0 976 2666)" textLength="173" lengthAdjust="spacingAndGlyphs">15号地</text>
<text class="w" transform="matrix(0 -1 1 0 1045 2636)" textLength="255" lengthAdjust="spacingAndGlyphs">258.71㎡</text>
<text class="w" transform="matrix(0 -1 1 0 1111 2618)" textLength="268" lengthAdjust="spacingAndGlyphs">約78.26坪</text>

<text class="w" transform="matrix(0 -1 1 0 1379.5 2633)" textLength="173" lengthAdjust="spacingAndGlyphs">10号地</text>
<text class="w" transform="matrix(0 -1 1 0 1447 2597)" textLength="250" lengthAdjust="spacingAndGlyphs">175.24㎡</text>
<text class="w" transform="matrix(0 -1 1 0 1515 2585)" textLength="266" lengthAdjust="spacingAndGlyphs">約53.01坪</text>
</g>
</svg>
</body></html>
